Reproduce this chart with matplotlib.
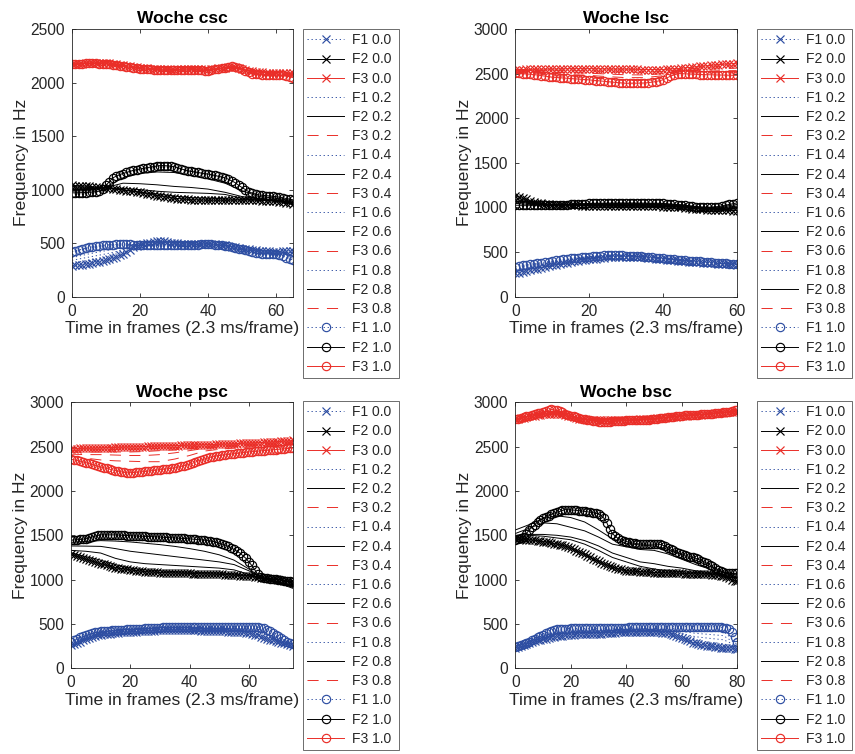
import numpy as np
import matplotlib
matplotlib.use('Agg')
import matplotlib.pyplot as plt
from matplotlib.ticker import FixedLocator

# ---------------- DATA ----------------
# Woche csc (frames 0..65)
csc_f1_00 = [287,292,296,300,305,310, 316,322,328,334,340, 350,362,374,387,400, 420,440,460, 470,480,490,500,
             506,512,516,520, 516,510,505,500, 498,496,494,492,490, 491,492,493,494,495, 492,489,486,483,480,
             474,468,462,456,450, 446,442,438,434,430, 428,426,424,422,420, 422,424,426,428,430]
csc_f1_10 = [420,428,436,444,452,460, 465,470,474,479,483, 485,486,488,489,490, 489,488,487,486,485,
             484,483,482,481,480, 480,480,480,480,480, 481,482,483,484,485, 486,487,488,489,490,
             488,485,482,479,475, 469,462,456,449,443, 435,427,420,412,405, 403,401,399,397,395,
             388,378,366,354,343]
csc_f1_02 = [315,340,370,420,485,505,497,489,494,479,449,425,415,412]
csc_f1_04 = [340,370,400,435,485,500,493,488,493,478,447,420,410,395]
csc_f1_06 = [365,400,430,455,485,495,490,487,492,477,446,415,405,378]
csc_f1_08 = [395,430,455,472,485,487,485,486,491,476,444,410,400,360]

csc_f2_00 = [1040,1038,1036,1034,1032,1030, 1027,1024,1021,1018,1015, 1011,1007,1003,999,995, 991,987,983,979,975,
             969,963,957,951,945, 940,935,930,925,920, 917,914,911,908,905, 904,903,902,901,900,
             900,900,900,900,900, 900,901,901,902,902, 902,901,901,900,900, 898,896,894,892,890,
             886,882,878,874,870]
csc_f2_10 = [970,970,971,972,973,975, 978,981,985,1010,1040, 1075,1110,1125,1140,1150, 1160,1170,1180,1186,1192,
             1198,1205,1210,1215,1220, 1225,1224,1222,1219,1215, 1205,1195,1185,1177,1170,
             1165,1160,1155,1150,1145, 1139,1132,1125,1118,1110, 1097,1081,1065,1040,1020,
             1000,980,968,958,950, 947,944,941,938,935, 929,923,917,911,905]
csc_f2_02 = [1030,1020,1016,1000,975,960,940,925,920,915,910,905,895,875]
csc_f2_04 = [1015,1010,1018,1010,1000,985,975,970,965,955,920,910,900,880]
csc_f2_06 = [1000,1000,1020,1060,1055,1045,1030,1020,1005,975,935,915,905,885]
csc_f2_08 = [985,990,1025,1110,1150,1165,1160,1130,1100,1060,990,935,920,895]

csc_f3_00 = [2170,2172,2174,2176,2178,2180, 2181,2182,2183,2184,2185, 2180,2175,2170,2165,2160,
             2156,2152,2148,2144,2140, 2137,2134,2131,2128,2125, 2124,2123,2122,2121,2120,
             2122,2124,2126,2128,2130, 2128,2126,2124,2122,2120, 2124,2128,2132,2136,2140,
             2142,2144,2145,2138,2128, 2118,2110,2105,2100,2095, 2094,2093,2092,2091,2090,
             2089,2088,2087,2086,2085]
csc_f3_10 = [2170,2172,2174,2176,2178,2180, 2179,2178,2177,2176,2175, 2170,2165,2160,2155,2150,
             2146,2142,2138,2134,2130, 2128,2126,2124,2121,2118, 2116,2115,2115,2116,2117,
             2118,2118,2119,2119,2120, 2118,2116,2114,2112,2110, 2116,2122,2128,2134,2140,
             2145,2150,2145,2140,2130, 2110,2095,2080,2078,2076, 2074,2072,2070,2069,2068,
             2067,2066,2065,2055,2045]
csc_f3_02 = [2170,2180,2183,2158,2138,2124,2119,2128,2118,2140,2129,2091,2086,2077]
csc_f3_04 = [2170,2180,2181,2156,2136,2122,2119,2126,2116,2140,2129,2087,2081,2069]
csc_f3_06 = [2170,2180,2179,2154,2134,2121,2118,2124,2114,2140,2130,2084,2077,2061]
csc_f3_08 = [2170,2180,2177,2152,2132,2119,2118,2122,2112,2140,2130,2080,2072,2053]

# Woche lsc (frames 0..60)
lsc_f1_00 = [262,270,279,288,297,305, 314,323,332,341,350, 358,366,374,382,390, 396,402,408,414,420,
             424,428,432,436,440, 444,447,450,449,448, 447,446,444,442,440, 436,432,428,424,420,
             416,412,408,404,400, 397,394,391,388,385, 382,379,376,373,370, 368,366,364,362,360]
lsc_f1_10 = [336,343,350,357,364,370, 376,382,388,394,400, 406,412,418,424,430, 434,438,442,446,450,
             453,456,459,462,465, 465,464,463,462,460, 458,456,454,452,450, 446,442,438,434,430,
             426,422,418,414,410, 407,404,401,398,395, 392,389,386,383,380, 377,374,371,368,365]
lsc_f1_02 = [277,318,360,398,426,445,450,442,422,402,387,372,361]
lsc_f1_04 = [292,331,370,406,432,450,453,444,424,404,389,374,362]
lsc_f1_06 = [306,344,380,414,438,455,455,446,426,406,391,376,363]
lsc_f1_08 = [321,357,390,422,444,460,458,448,428,408,393,378,364]

lsc_f2_00 = [1130,1117,1103,1090,1075,1060, 1054,1048,1042,1036,1030, 1029,1028,1027,1026,1025,
             1024,1023,1022,1021,1020, 1020,1019,1019,1018,1018, 1017,1017,1016,1016,1015,
             1015,1014,1014,1013,1013, 1012,1012,1011,1011,1010, 1008,1006,1004,1002,1000,
             996,992,988,984,980, 978,976,974,972,970, 969,968,967,966,965]
lsc_f2_10 = [1025,1025,1025,1025,1025,1025, 1025,1025,1025,1025,1025, 1027,1029,1031,1033,1035,
             1037,1039,1041,1043,1045, 1046,1047,1047,1048,1048, 1049,1049,1050,1050,1050,
             1050,1050,1049,1049,1048, 1048,1047,1047,1046,1045, 1042,1039,1036,1033,1030,
             1025,1020,1015,1010,1005, 1002,1000,1003,1006,1010, 1018,1026,1034,1042,1050]
lsc_f2_02 = [1110,1053,1029,1027,1025,1024,1022,1020,1017,1006,985,978,982]
lsc_f2_04 = [1090,1046,1028,1029,1030,1030,1029,1027,1024,1012,990,986,999]
lsc_f2_06 = [1067,1039,1027,1031,1035,1036,1036,1034,1031,1018,995,994,1016]
lsc_f2_08 = [1046,1032,1026,1033,1040,1042,1043,1041,1038,1024,1000,1002,1033]

lsc_f3_00 = [2545,2546,2546,2547,2547,2548, 2548,2549,2549,2550,2550, 2551,2552,2553,2554,2555,
             2555,2555,2555,2555,2555, 2555,2554,2553,2552,2551, 2551,2550,2550,2550,2550,
             2549,2548,2547,2546,2545, 2545,2545,2545,2545,2545, 2548,2551,2554,2557,2560,
             2564,2568,2572,2576,2580, 2584,2588,2592,2596,2600, 2603,2606,2609,2612,2615]
lsc_f3_10 = [2505,2502,2499,2496,2493,2490, 2484,2478,2472,2466,2460, 2457,2454,2451,2448,2445,
             2442,2439,2436,2433,2430, 2426,2422,2418,2414,2410, 2406,2402,2398,2395,2392,
             2392,2393,2393,2394,2395, 2399,2404,2410,2420,2430, 2450,2470,2485,2500,2500,
             2498,2496,2494,2492,2490, 2489,2488,2487,2486,2485, 2484,2483,2482,2481,2480]
lsc_f3_02 = [2537,2536,2532,2533,2530,2523,2518,2515,2522,2548,2562,2577,2588]
lsc_f3_04 = [2529,2525,2514,2511,2505,2495,2487,2485,2499,2536,2544,2554,2561]
lsc_f3_06 = [2521,2513,2496,2489,2480,2466,2455,2455,2476,2524,2526,2531,2534]
lsc_f3_08 = [2513,2502,2478,2467,2455,2438,2424,2425,2453,2512,2508,2508,2507]

# Woche psc (frames 0..75)
psc_f1_00 = [260,274,288,302,316,330, 340,350,360,370,380, 384,388,392,396,400, 402,404,406,408,410,
             412,414,416,418,420, 422,424,426,428,430, 430,430,430,430,430, 430,430,430,430,430,
             429,428,427,426,425, 424,423,422,421,420, 418,416,414,412,410, 408,406,404,402,400,
             390,380,370,355,340, 332,324,316,308,300, 290,280,270,260,250]
psc_f1_10 = [300,318,335,350,365,380, 388,396,404,412,420, 422,424,426,428,430, 432,434,436,438,440,
             442,444,446,448,450, 452,454,456,458,460, 461,462,463,464,465, 466,467,468,469,470,
             470,470,470,470,470, 470,470,470,470,470, 470,470,470,470,470, 470,470,470,470,470,
             469,467,465,458,450, 435,418,400,380,360, 340,320,300,285,270]
psc_f1_02 = [268,340,388,406,416,426,436,437,438,434,430,422,414,362,312,254]
psc_f1_04 = [276,350,396,412,422,432,442,444,446,443,440,434,428,384,324,258]
psc_f1_06 = [284,360,404,418,428,438,448,451,454,452,450,446,442,406,336,262]
psc_f1_08 = [292,370,412,424,434,444,454,458,462,461,460,458,456,428,348,266]

psc_f2_00 = [1285,1274,1263,1252,1241,1230, 1220,1210,1200,1190,1180, 1171,1162,1153,1144,1135,
             1130,1125,1120,1115,1110, 1106,1102,1098,1094,1090, 1088,1086,1084,1082,1080,
             1079,1078,1077,1076,1075, 1074,1073,1072,1071,1070, 1069,1068,1067,1066,1065,
             1064,1063,1062,1061,1060, 1058,1056,1054,1052,1050, 1048,1046,1044,1042,1040,
             1036,1032,1028,1024,1020, 1016,1012,1008,1004,1000, 994,988,982,976,970]
psc_f2_10 = [1445,1447,1450,1453,1456,1460, 1470,1480,1490,1498,1505, 1505,1505,1505,1505,1505,
             1503,1501,1499,1497,1495, 1493,1492,1490,1489,1488, 1486,1485,1483,1482,1480,
             1478,1476,1474,1472,1470, 1468,1466,1464,1462,1460, 1457,1454,1451,1448,1445,
             1440,1435,1430,1420,1410, 1400,1390,1375,1358,1340, 1320,1300,1270,1240,1200,
             1160,1110,1060,1035,1020, 1016,1012,1008,1004,1000, 995,990,985,980,975]
psc_f2_02 = [1300,1260,1220,1170,1130,1110,1100,1090,1085,1080,1075,1065,1045,1015,960,900]
psc_f2_04 = [1330,1320,1300,1240,1200,1180,1170,1160,1150,1140,1130,1110,1060,1010,965,910]
psc_f2_06 = [1380,1378,1375,1350,1320,1300,1280,1260,1240,1220,1200,1170,1100,1010,970,920]
psc_f2_08 = [1420,1430,1440,1435,1425,1410,1395,1375,1350,1320,1280,1220,1120,1010,975,930]

psc_f3_00 = [2475,2477,2478,2479,2480,2481, 2482,2483,2484,2485,2486, 2487,2488,2489,2490,2491,
             2492,2493,2494,2495,2496, 2497,2498,2499,2500,2501, 2502,2503,2504,2505,2506,
             2507,2508,2509,2510,2511, 2512,2513,2514,2515,2516, 2517,2518,2519,2520,2521,
             2522,2523,2524,2525,2526, 2527,2528,2530,2531,2533, 2534,2536,2537,2539,2540,
             2542,2543,2545,2546,2548, 2549,2551,2553,2555,2557, 2559,2561,2563,2566,2570]
psc_f3_10 = [2360,2352,2344,2336,2328,2320, 2310,2300,2290,2280,2270, 2262,2254,2246,2238,2230,
             2223,2216,2210,2205,2206, 2208,2211,2214,2217,2220, 2224,2228,2232,2236,2240,
             2244,2248,2252,2256,2260, 2268,2276,2284,2292,2300, 2313,2326,2340,2350,2360,
             2370,2380,2387,2394,2400, 2404,2408,2412,2416,2420, 2424,2428,2432,2436,2440,
             2443,2446,2449,2452,2455, 2458,2461,2464,2467,2470, 2473,2476,2479,2482,2485]
psc_f3_02 = [2455,2460,2465,2468,2470,2475,2480,2487,2495,2505,2512,2520,2528,2535,2545,2555]
psc_f3_04 = [2435,2440,2440,2440,2440,2445,2455,2465,2478,2490,2500,2510,2518,2525,2535,2545]
psc_f3_06 = [2415,2410,2410,2405,2400,2400,2410,2430,2455,2480,2490,2500,2508,2515,2525,2535]
psc_f3_08 = [2390,2370,2350,2340,2335,2330,2330,2360,2400,2450,2470,2485,2495,2505,2515,2525]

# Woche bsc (frames 0..80)
bsc_f1_00 = [230,242,254,266,278,290, 298,306,314,322,330, 336,342,348,354,360, 364,368,372,376,380,
             381,382,383,384,385, 386,387,388,389,390, 392,394,396,398,400, 402,404,406,408,410,
             410,410,410,410,410, 410,410,410,410,410, 408,406,403,400,396, 390,380,368,355,340,
             330,320,305,290,280, 272,265,260,255,250, 246,242,238,234,230, 228,226,224,222,220]
bsc_f1_10 = [240,250,262,275,288,300, 316,332,348,364,380, 393,406,418,430,440, 442,444,446,448,450,
             450,450,450,450,450, 450,450,450,450,450, 451,452,453,454,455, 456,457,458,459,460,
             461,462,463,464,465, 466,467,468,469,470, 470,470,470,470,470, 470,470,470,470,470,
             470,470,470,470,470, 470,470,470,470,470, 469,468,466,463,460, 452,440,405,350,300]
bsc_f1_02 = [232,292,340,376,394,398,402,411,420,421,422,411,366,318,294,276,236]
bsc_f1_04 = [234,294,350,392,408,411,414,422,430,432,434,426,392,356,338,322,252]
bsc_f1_06 = [236,296,360,408,422,424,426,433,440,443,446,441,418,394,382,368,268]
bsc_f1_08 = [238,298,370,424,436,437,438,444,450,454,458,455,444,432,426,414,284]

bsc_f2_00 = [1460,1458,1456,1454,1452,1450, 1446,1442,1438,1434,1430, 1425,1420,1413,1406,1400,
             1393,1387,1380,1367,1353, 1340,1327,1313,1300,1284, 1268,1252,1236,1220,1206,
             1192,1178,1164,1150,1142, 1134,1125,1116,1108,1100, 1098,1096,1094,1092,1090,
             1088,1086,1084,1082,1080, 1079,1078,1077,1076,1075, 1074,1073,1072,1071,1070,
             1069,1068,1067,1066,1065, 1064,1063,1062,1061,1060, 1056,1052,1048,1044,1040,
             1027,1013,1000,990,980]
bsc_f2_10 = [1447,1455,1465,1485,1520,1560, 1590,1620,1650,1670,1690, 1705,1720,1735,1750,1760,
             1770,1780,1790,1788,1786, 1784,1782,1778,1774,1770, 1765,1760,1755,1750,1740,
             1720,1690,1640,1570,1520, 1490,1465,1450,1440,1430, 1422,1415,1410,1405,1402,
             1400,1400,1400,1400,1400, 1400,1398,1390,1375,1360, 1345,1330,1315,1300,1290,
             1280,1270,1260,1250,1240, 1228,1215,1200,1185,1170, 1150,1130,1110,1095,1085,
             1078,1074,1072,1071,1070]
bsc_f2_02 = [1470,1500,1490,1470,1450,1400,1330,1250,1200,1150,1120,1100,1090,1080,1070,1050,1010]
bsc_f2_04 = [1500,1510,1510,1500,1480,1440,1380,1300,1250,1200,1180,1150,1130,1100,1080,1060,1030]
bsc_f2_06 = [1520,1580,1640,1630,1590,1550,1480,1400,1370,1340,1330,1290,1230,1170,1120,1080,1050]
bsc_f2_08 = [1560,1620,1690,1720,1700,1650,1560,1460,1410,1390,1380,1340,1280,1220,1150,1090,1060]

bsc_f3_00 = [2810,2816,2822,2828,2834,2840, 2845,2850,2855,2860,2865, 2866,2867,2868,2869,2870,
             2867,2864,2860,2850,2840, 2830,2820,2816,2812,2808, 2805,2804,2803,2802,2800,
             2800,2800,2800,2800,2800, 2800,2800,2800,2800,2800, 2801,2803,2804,2806,2807,
             2809,2810,2812,2813,2815, 2818,2821,2824,2827,2830, 2833,2836,2839,2842,2845,
             2847,2850,2852,2855,2857, 2860,2862,2865,2867,2870, 2872,2875,2877,2880,2882,
             2885,2887,2890,2892,2895]
bsc_f3_10 = [2808,2816,2824,2832,2840,2850, 2858,2866,2874,2882,2890, 2900,2910,2920,2915,2910,
             2900,2887,2873,2860,2850, 2840,2830,2822,2815,2808, 2800,2795,2790,2785,2780,
             2780,2781,2782,2783,2785, 2787,2789,2791,2793,2795, 2796,2797,2798,2800,2801,
             2802,2804,2806,2808,2810, 2814,2818,2822,2826,2830, 2834,2838,2842,2846,2850,
             2852,2854,2856,2858,2860, 2862,2864,2866,2868,2870, 2873,2876,2879,2882,2885,
             2890,2896,2902,2908,2915]
bsc_f3_02 = [2810,2842,2870,2878,2842,2808,2796,2797,2799,2806,2814,2830,2846,2858,2870,2883,2899]
bsc_f3_04 = [2809,2844,2875,2886,2844,2808,2792,2794,2798,2805,2813,2830,2847,2858,2870,2883,2903]
bsc_f3_06 = [2809,2846,2880,2894,2846,2808,2788,2791,2797,2803,2812,2830,2848,2859,2870,2884,2907]
bsc_f3_08 = [2808,2848,2885,2902,2848,2808,2784,2788,2796,2802,2811,2830,2849,2859,2870,2884,2911]

titles = ['Woche csc', 'Woche lsc', 'Woche psc', 'Woche bsc']
levels = ['0.0', '0.2', '0.4', '0.6', '0.8', '1.0']
n_frames = [66, 61, 76, 81]
x_limits = [65, 60, 75, 80]
y_limits = [2500, 3000, 3000, 3000]
xtick_vals = [[0, 20, 40, 60], [0, 20, 40, 60], [0, 20, 40, 60], [0, 20, 40, 60, 80]]

# ---------------- STYLE ----------------
plt.rcParams['font.family'] = ['Liberation Sans', 'DejaVu Sans']
plt.rcParams['lines.scale_dashes'] = False

BLUE = '#2E4EA2'
RED = '#EA2E28'
BLACK = '#000000'
TXT = '#262626'
LW = 0.7
MEW = 0.85
DOT = (0, (0.9, 2.0))
DASH = (0, (8, 6))

fig = plt.figure(figsize=(8.55, 7.54), dpi=100)
W, H = 855.0, 754.0

def frect(l, t, r, b):
    return [l / W, 1 - b / H, (r - l) / W, (b - t) / H]

axes_px = [(72, 29, 293, 296.7), (515.3, 29, 736.7, 296.7),
           (71, 402.3, 293.3, 668.3), (515.3, 402.3, 737.3, 668.3)]
legend_px = [(303, 29, 96), (757, 29, 95), (303, 401, 96), (757, 401, 95)]

data = {
    0: (csc_f1_00, csc_f2_00, csc_f3_00, csc_f1_10, csc_f2_10, csc_f3_10,
        [(csc_f1_02, csc_f2_02, csc_f3_02), (csc_f1_04, csc_f2_04, csc_f3_04),
         (csc_f1_06, csc_f2_06, csc_f3_06), (csc_f1_08, csc_f2_08, csc_f3_08)]),
    1: (lsc_f1_00, lsc_f2_00, lsc_f3_00, lsc_f1_10, lsc_f2_10, lsc_f3_10,
        [(lsc_f1_02, lsc_f2_02, lsc_f3_02), (lsc_f1_04, lsc_f2_04, lsc_f3_04),
         (lsc_f1_06, lsc_f2_06, lsc_f3_06), (lsc_f1_08, lsc_f2_08, lsc_f3_08)]),
    2: (psc_f1_00, psc_f2_00, psc_f3_00, psc_f1_10, psc_f2_10, psc_f3_10,
        [(psc_f1_02, psc_f2_02, psc_f3_02), (psc_f1_04, psc_f2_04, psc_f3_04),
         (psc_f1_06, psc_f2_06, psc_f3_06), (psc_f1_08, psc_f2_08, psc_f3_08)]),
    3: (bsc_f1_00, bsc_f2_00, bsc_f3_00, bsc_f1_10, bsc_f2_10, bsc_f3_10,
        [(bsc_f1_02, bsc_f2_02, bsc_f3_02), (bsc_f1_04, bsc_f2_04, bsc_f3_04),
         (bsc_f1_06, bsc_f2_06, bsc_f3_06), (bsc_f1_08, bsc_f2_08, bsc_f3_08)]),
}

for i in range(4):
    ax = fig.add_axes(frect(*axes_px[i]))
    frames = np.arange(n_frames[i])
    coarse = frames[::5]
    f1a, f2a, f3a, f1b, f2b, f3b, mids = data[i]
    handles = []
    mk = dict(ms=6, mew=MEW)
    handles += ax.plot(frames, f1a, color=BLUE, ls=DOT, lw=LW, marker='x', **mk, label='F1 0.0')
    handles += ax.plot(frames, f2a, color=BLACK, ls='-', lw=LW, marker='x', **mk, label='F2 0.0')
    handles += ax.plot(frames, f3a, color=RED, ls='-', lw=LW, marker='x', **mk, label='F3 0.0')
    for j, (m1, m2, m3) in enumerate(mids):
        lv = levels[j + 1]
        handles += ax.plot(coarse, m1, color=BLUE, ls=DOT, lw=LW, label='F1 ' + lv)
        handles += ax.plot(coarse, m2, color=BLACK, ls='-', lw=LW, label='F2 ' + lv)
        handles += ax.plot(coarse, m3, color=RED, ls=DASH, lw=LW, label='F3 ' + lv)
    handles += ax.plot(frames, f1b, color=BLUE, ls=DOT, lw=LW, marker='o', mfc='none', **mk, label='F1 1.0')
    handles += ax.plot(frames, f2b, color=BLACK, ls='-', lw=LW, marker='o', mfc='none', **mk, label='F2 1.0')
    handles += ax.plot(frames, f3b, color=RED, ls='-', lw=LW, marker='o', mfc='none', **mk, label='F3 1.0')

    ax.set_xlim(0, x_limits[i])
    ax.set_ylim(0, y_limits[i])
    ax.xaxis.set_major_locator(FixedLocator(xtick_vals[i]))
    ax.yaxis.set_major_locator(FixedLocator(list(range(0, y_limits[i] + 1, 500))))
    ax.tick_params(direction='in', length=3, width=0.6, colors=TXT, labelsize=11.2,
                   top=True, right=True, pad=5)
    for s in ax.spines.values():
        s.set_linewidth(0.6)
        s.set_color(TXT)
    ax.set_title(titles[i], fontsize=12.6, fontweight='bold', color='black', pad=4)
    ax.set_xlabel('Time in frames (2.3 ms/frame)', fontsize=12.6, color=TXT, labelpad=2)
    ax.set_ylabel('Frequency in Hz', fontsize=12.6, color=TXT, labelpad=1)

    lx, ly, lw_ = legend_px[i]
    leg = fig.legend(handles=handles, loc='upper left',
                     bbox_to_anchor=(lx / W, 1 - ly / H, lw_ / W, 0), mode='expand',
                     borderaxespad=0, fontsize=10, labelspacing=0.375, handlelength=2.65,
                     handletextpad=0.55, borderpad=0.3, fancybox=False, framealpha=1,
                     edgecolor='#555555', numpoints=1)
    leg.get_frame().set_linewidth(0.6)
    for t in leg.get_texts():
        t.set_color(TXT)

fig.savefig('out.png', dpi=100)
